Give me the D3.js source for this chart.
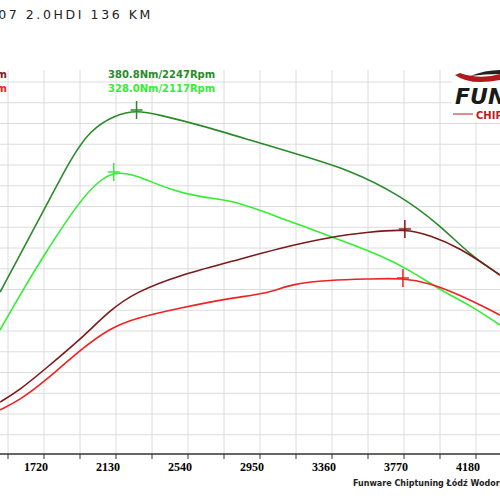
<!DOCTYPE html>
<html>
<head>
<meta charset="utf-8">
<script src="https://cdn.jsdelivr.net/npm/d3@7"></script>
<style>
body { margin: 0; background: #fff; }
</style>
</head>
<body>
<div id="chart"></div>
<script>
// rpm / torque (Nm) / power (KM)
var tunedTorqueRpm = [1470, 1583, 1720, 1868, 1982, 2124, 2247, 2380, 2608, 2893, 3178, 3462, 3747, 3975, 4146, 4316];
var tunedTorque = [225.8, 257.3, 295.6, 338.2, 363.8, 376.5, 380.8, 376.5, 368.0, 355.2, 342.5, 329.7, 308.4, 282.8, 257.3, 240.3];
var stockTorqueRpm = [1470, 1583, 1720, 1925, 2039, 2117, 2232, 2437, 2608, 2779, 2950, 3178, 3405, 3633, 3804, 3975, 4146, 4316];
var stockTorque = [193.4, 223.2, 257.3, 304.1, 321.2, 328.0, 326.3, 312.7, 306.7, 304.1, 295.6, 282.8, 270.1, 257.3, 244.5, 227.5, 214.7, 197.7];
var tunedPowerRpm = [1470, 1583, 1720, 1925, 2096, 2244, 2494, 2779, 3064, 3348, 3576, 3775, 3918, 4089, 4260, 4316];
var tunedPower = [76.7, 82.9, 93.1, 108.4, 123.7, 132.9, 141.5, 148.2, 155.3, 160.9, 163.5, 165.0, 161.9, 155.3, 145.1, 141.5];
var stockPowerRpm = [1470, 1583, 1720, 1925, 2096, 2244, 2494, 2779, 3007, 3121, 3348, 3576, 3764, 3918, 4089, 4260, 4316];
var stockPower = [72.7, 77.8, 86.9, 103.3, 114.5, 119.6, 124.7, 129.8, 132.3, 136.9, 139.0, 139.5, 140.0, 137.4, 131.3, 123.7, 121.1];
var rpmTicks = [1720, 2130, 2540, 2950, 3360, 3770, 4180];

var svg = d3.select("#chart").append("svg").attr("width", 500).attr("height", 500);

var x = d3.scaleLinear().domain([1720, 4180]).range([44, 476]);
var yT = d3.scaleLinear().domain([380.8, 328.0]).range([110, 172]);
var yP = d3.scaleLinear().domain([165, 140]).range([229, 278]);

// grid
var grid = svg.append("g").attr("stroke", "#dcdcdc").attr("stroke-width", 1);
d3.range(1720 - 205 * 2, 4500, 205).forEach(function(r) {
  grid.append("line").attr("x1", x(r)).attr("x2", x(r)).attr("y1", 70).attr("y2", 454);
});
d3.range(0, 18).forEach(function(i) {
  var yy = 82 + i * 20.75;
  grid.append("line").attr("x1", 0).attr("x2", 500).attr("y1", yy).attr("y2", yy);
});

// axis
svg.append("line").attr("x1", 0).attr("x2", 500).attr("y1", 454).attr("y2", 454)
  .attr("stroke", "#333").attr("stroke-width", 1.5);
d3.range(1720 - 205 * 2, 4500, 205).forEach(function(r) {
  svg.append("line").attr("x1", x(r)).attr("x2", x(r)).attr("y1", 454).attr("y2", 459)
    .attr("stroke", "#333");
});
svg.selectAll(".tl").data(rpmTicks).enter().append("text")
  .attr("x", d => x(d) - 8).attr("y", 471)
  .attr("text-anchor", "middle")
  .attr("font-family", "Liberation Serif").attr("font-weight", "bold").attr("font-size", 12)
  .text(d => d);

function draw(rpm, vals, scale, color) {
  var pts = rpm.map((r, i) => [x(r), scale(vals[i])]);
  svg.append("path").datum(pts)
    .attr("fill", "none").attr("stroke", color).attr("stroke-width", 1.6)
    .attr("d", d3.line().curve(d3.curveBasis));
}
draw(tunedTorqueRpm, tunedTorque, yT, "#2a8a2a");
draw(stockTorqueRpm, stockTorque, yT, "#33ee33");
draw(tunedPowerRpm, tunedPower, yP, "#7a1a1a");
draw(stockPowerRpm, stockPower, yP, "#ee2222");

// peak markers
[[2247, yT(380.8), "#2a8a2a"], [2117, yT(328.0), "#33ee33"],
 [3775, yP(165), "#7a1a1a"], [3764, yP(140), "#ee2222"]].forEach(function(m) {
  svg.append("line").attr("x1", x(m[0])).attr("x2", x(m[0]))
    .attr("y1", m[1] - 9).attr("y2", m[1] + 9).attr("stroke", m[2]).attr("stroke-width", 1.5);
  svg.append("line").attr("x1", x(m[0]) - 6).attr("x2", x(m[0]) + 6)
    .attr("y1", m[1]).attr("y2", m[1]).attr("stroke", m[2]).attr("stroke-width", 1.5);
});

// legend
var lf = "DejaVu Sans";
svg.append("text").attr("x", 108).attr("y", 78).attr("fill", "#2a8a2a")
  .attr("font-family", lf).attr("font-weight", "bold").attr("font-size", 10).text("380.8Nm/2247Rpm");
svg.append("text").attr("x", 108).attr("y", 92).attr("fill", "#33ee33")
  .attr("font-family", lf).attr("font-weight", "bold").attr("font-size", 10).text("328.0Nm/2117Rpm");
svg.append("text").attr("x", 7).attr("y", 78).attr("text-anchor", "end").attr("fill", "#7a1a1a")
  .attr("font-family", lf).attr("font-weight", "bold").attr("font-size", 10).text("165.0KM/3775Rpm");
svg.append("text").attr("x", 7).attr("y", 92).attr("text-anchor", "end").attr("fill", "#ee2222")
  .attr("font-family", lf).attr("font-weight", "bold").attr("font-size", 10).text("140.0KM/3764Rpm");

// title
svg.append("text").attr("x", 153).attr("y", 19).attr("text-anchor", "end")
  .attr("font-family", "DejaVu Sans").attr("font-size", 12.5).attr("letter-spacing", 2.6)
  .attr("fill", "#222").text("PEUGEOT 407 2.0HDI 136 KM");

// logo
var logo = svg.append("g");
logo.append("rect").attr("x", 452).attr("y", 68).attr("width", 48).attr("height", 54).attr("fill", "#fff");
logo.append("path").attr("d", "M455,75 Q470,86 500,80 L500,74 Q480,80 460,73 Z").attr("fill", "#b01a1a");
logo.append("path").attr("d", "M470,76 Q485,70 500,70 L500,74 Q485,74 470,76 Z").attr("fill", "#222");
logo.append("text").attr("x", 455).attr("y", 104).attr("font-family", "DejaVu Sans")
  .attr("font-weight", "bold").attr("font-style", "italic").attr("font-size", 22).attr("fill", "#1a1a1a").text("FUN");
logo.append("line").attr("x1", 453).attr("x2", 473).attr("y1", 114).attr("y2", 114).attr("stroke", "#c01a1a");
logo.append("text").attr("x", 476).attr("y", 119).attr("font-family", "DejaVu Sans")
  .attr("font-weight", "bold").attr("font-size", 10).attr("fill", "#c01a1a").text("CHIP");

// footer
svg.append("text").attr("x", 353).attr("y", 486)
  .attr("font-family", "DejaVu Sans").attr("font-weight", "bold").attr("font-size", 8)
  .attr("fill", "#222").text("Funware Chiptuning Łódź Wodorowa");
</script>
</body>
</html>
